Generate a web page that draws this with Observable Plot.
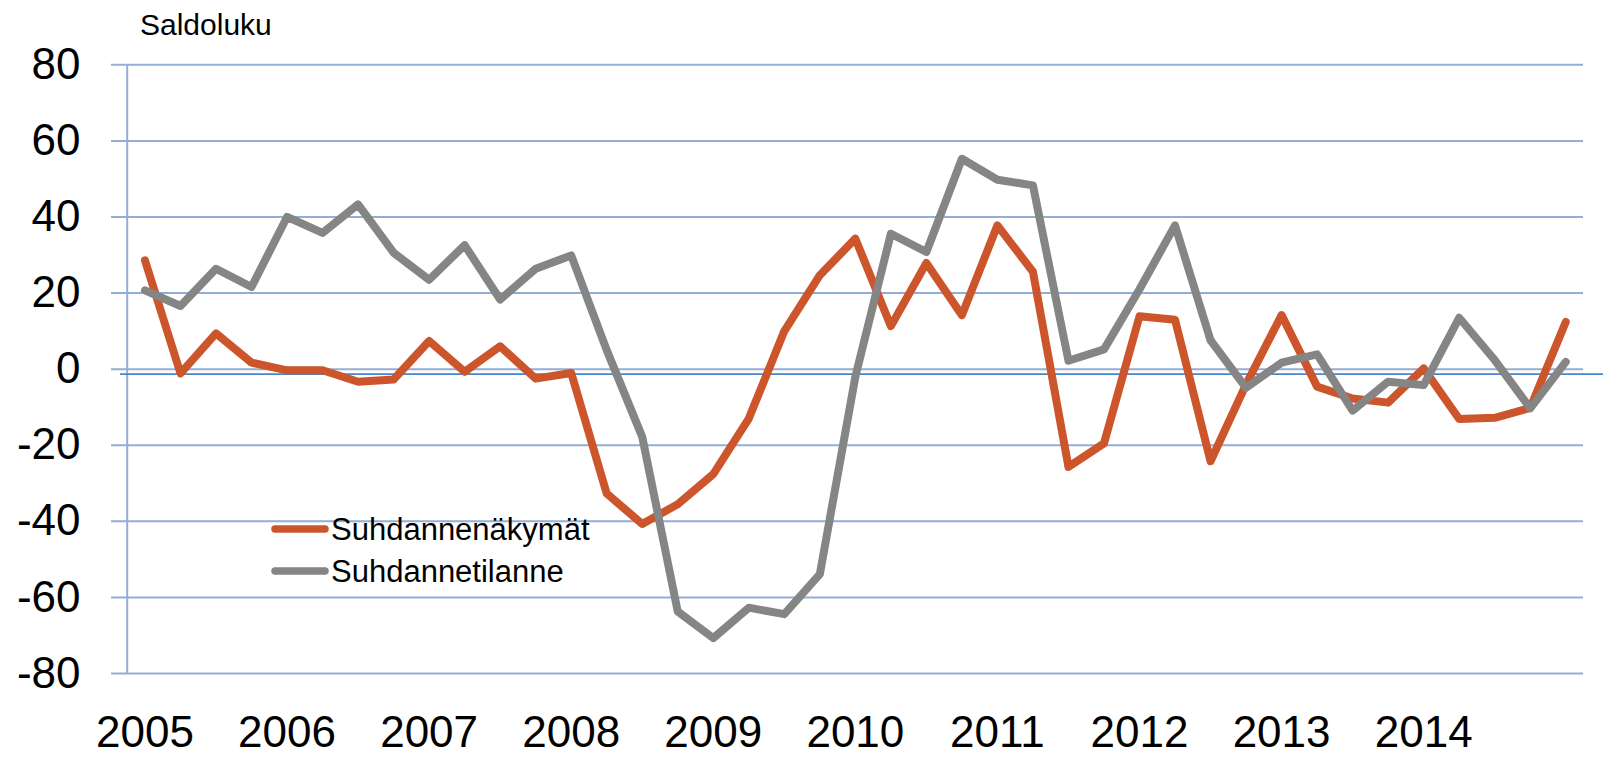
<!DOCTYPE html>
<html>
<head>
<meta charset="utf-8">
<script src="https://cdn.jsdelivr.net/npm/d3@7"></script>
<script src="https://cdn.jsdelivr.net/npm/@observablehq/plot@0.6"></script>
<style>
  html, body { margin: 0; padding: 0; background: #ffffff; }
  #wrap { position: relative; width: 1603px; height: 757px; font-family: "Liberation Sans", Arial, sans-serif; }
  #overlay { position: absolute; left: 0; top: 0; pointer-events: none; }
</style>
</head>
<body>
<div id="wrap"></div>
<script>
// ---- data (quarterly, 2005Q1 ... 2015Q1) ----
const yearLabels = ["2005", "2006", "2007", "2008", "2009", "2010", "2011", "2012", "2013", "2014"];
const seriesNames = ["Suhdannenäkymät", "Suhdannetilanne"];
const suhdannenakymat = [28.6, -1.1, 9.4, 1.7, -0.3, -0.3, -3.3, -2.7, 7.4, -0.7, 6.0, -2.5, -1.0,
  -32.7, -40.7, -35.5, -27.6, -13.0, 10.0, 24.7, 34.3, 11.3, 27.9, 14.2, 37.8, 25.6,
  -25.7, -19.5, 13.9, 13.0, -24.2, -4.0, 14.2, -4.6, -7.7, -8.8, 0.2, -13.1, -12.8, -10.2, 12.4];
const suhdannetilanne = [20.7, 16.6, 26.4, 21.6, 40.0, 35.8, 43.3, 30.6, 23.5, 32.6, 18.3, 26.4, 29.9,
  5.0, -17.8, -63.7, -70.7, -62.7, -64.4, -53.9, -2.0, 35.6, 30.8, 55.3, 49.8, 48.3,
  2.2, 5.2, 21.0, 37.8, 7.6, -4.9, 1.7, 3.9, -10.9, -3.3, -4.2, 13.5, 2.4, -10.3, 1.9];
const yTicks = [-80, -60, -40, -20, 0, 20, 40, 60, 80];
const referenceLevel = -1.3;
const axisTitle = "Saldoluku";

// ---- styles ----
const orange = "#cd552b";
const gray = "#858585";
const gridBlue = "#93aed6";
const refBlue = "#4a84c8";

const rows = [];
suhdannenakymat.forEach((v, i) => rows.push({i, v, s: seriesNames[0]}));
suhdannetilanne.forEach((v, i) => rows.push({i, v, s: seriesNames[1]}));
const n = suhdannenakymat.length;
const xTickPos = yearLabels.map((_, k) => k * 4);

const W = 1603, H = 757;
const chart = Plot.plot({
  width: W,
  height: H,
  marginLeft: 126.7,
  marginRight: 20,
  marginTop: 64.3,
  marginBottom: 84,
  style: {fontFamily: "'Liberation Sans', Arial, sans-serif", color: "#000", background: "#fff"},
  x: {type: "linear", domain: [-0.5, n - 0.5], label: null},
  y: {domain: [-80, 80], label: null},
  color: {domain: seriesNames, range: [orange, gray]},
  marks: [
    Plot.ruleY(yTicks, {stroke: gridBlue, strokeWidth: 2, insetLeft: -15.7}),
    Plot.ruleX([-0.5], {y1: -80, y2: 80, stroke: gridBlue, strokeWidth: 2}),
    Plot.ruleY([referenceLevel], {stroke: refBlue, strokeWidth: 1.8, insetLeft: -6.7, insetRight: -20}),
    Plot.axisY({ticks: yTicks, label: null, tickSize: 0, tickPadding: 46.7, fontSize: 44, tickFormat: d => String(d).replace("−", "-")}),
    Plot.axisX({ticks: xTickPos, label: null, tickSize: 0, tickPadding: 42, fontSize: 44, tickFormat: i => yearLabels[i / 4]}),
    Plot.line(rows, {x: "i", y: "v", z: "s", stroke: "s", strokeWidth: 8, strokeLinejoin: "round", strokeLinecap: "round"})
  ]
});

const wrap = document.getElementById("wrap");
wrap.appendChild(chart);

// overlay: axis title and legend
const svgNS = "http://www.w3.org/2000/svg";
const ov = document.createElementNS(svgNS, "svg");
ov.setAttribute("id", "overlay");
ov.setAttribute("width", W);
ov.setAttribute("height", H);
function txt(x, y, s, size) {
  const t = document.createElementNS(svgNS, "text");
  t.setAttribute("x", x); t.setAttribute("y", y);
  t.setAttribute("font-size", size);
  t.setAttribute("font-family", "'Liberation Sans', Arial, sans-serif");
  t.setAttribute("fill", "#000");
  t.textContent = s;
  ov.appendChild(t);
}
function ln(x1, x2, y, color) {
  const l = document.createElementNS(svgNS, "line");
  l.setAttribute("x1", x1); l.setAttribute("x2", x2);
  l.setAttribute("y1", y); l.setAttribute("y2", y);
  l.setAttribute("stroke", color); l.setAttribute("stroke-width", 7.5);
  l.setAttribute("stroke-linecap", "round");
  ov.appendChild(l);
}
txt(140, 35, axisTitle, 30);
ln(275, 325, 529, orange);
txt(331, 540, seriesNames[0], 31);
ln(275, 325, 571, gray);
txt(331, 582, seriesNames[1], 31);
wrap.appendChild(ov);
</script>
</body>
</html>
